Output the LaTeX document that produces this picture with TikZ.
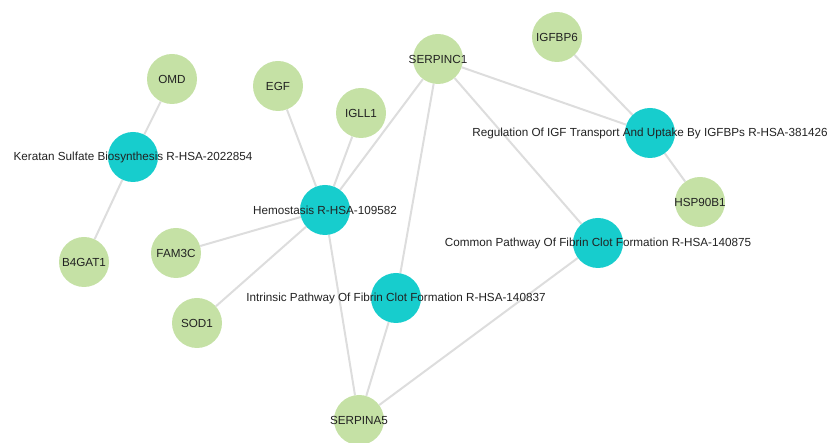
\documentclass[tikz,border=0pt]{standalone}
\usepackage{fontspec}
\setmainfont{Liberation Sans}
\usetikzlibrary{backgrounds}
\definecolor{genegreen}{HTML}{C5E1A5}
\definecolor{pathteal}{HTML}{17CDCD}
\definecolor{linkgray}{HTML}{DDDDDD}
\definecolor{labelgray}{HTML}{222222}

\begin{document}
\begin{tikzpicture}[x=1pt,y=-1pt,
  every label/.style={font=\fontsize{11.7}{14}\selectfont,text=labelgray,inner sep=0pt},
  gene/.style={circle,fill=genegreen,minimum size=50pt,inner sep=0pt},
  pathway/.style={circle,fill=pathteal,minimum size=50pt,inner sep=0pt},
  link/.style={draw=linkgray,line width=2pt}]
\useasboundingbox (0,0) rectangle (831,443);
% genes
\node[gene,label=center:OMD] (OMD) at (172,79) {};
\node[gene,label=center:B4GAT1] (B4GAT1) at (84,262) {};
\node[gene,label=center:EGF] (EGF) at (278,86) {};
\node[gene,label=center:IGLL1] (IGLL1) at (361,113) {};
\node[gene,label=center:SERPINC1] (SERPINC1) at (438,59) {};
\node[gene,label=center:IGFBP6] (IGFBP6) at (557,37) {};
\node[gene,label=center:HSP90B1] (HSP90B1) at (700,202) {};
\node[gene,label=center:FAM3C] (FAM3C) at (176,253) {};
\node[gene,label=center:SOD1] (SOD1) at (197,323) {};
\node[gene,label=center:SERPINA5] (SERPINA5) at (359,420) {};
% pathways
\node[pathway,label=center:{Keratan Sulfate Biosynthesis R-HSA-2022854}] (p_1) at (133,157) {};
\node[pathway,label=center:{Hemostasis R-HSA-109582}] (p_2) at (325,210) {};
\node[pathway,label=center:{Regulation Of IGF Transport And Uptake By IGFBPs R-HSA-381426}] (p_3) at (650,133) {};
\node[pathway,label=center:{Common Pathway Of Fibrin Clot Formation R-HSA-140875}] (p_4) at (598,243) {};
\node[pathway,label=center:{Intrinsic Pathway Of Fibrin Clot Formation R-HSA-140837}] (p_5) at (396,298) {};
\begin{scope}[on background layer]
\path[link]
(p_1) edge (OMD)
      edge (B4GAT1)
(p_2) edge (EGF)
      edge (IGLL1)
      edge (SERPINC1)
      edge (FAM3C)
      edge (SOD1)
      edge (SERPINA5)
(p_3) edge (SERPINC1)
      edge (IGFBP6)
      edge (HSP90B1)
(p_4) edge (SERPINC1)
      edge (SERPINA5)
(p_5) edge (SERPINC1)
      edge (SERPINA5)
;
\end{scope}
\end{tikzpicture}
\end{document}
